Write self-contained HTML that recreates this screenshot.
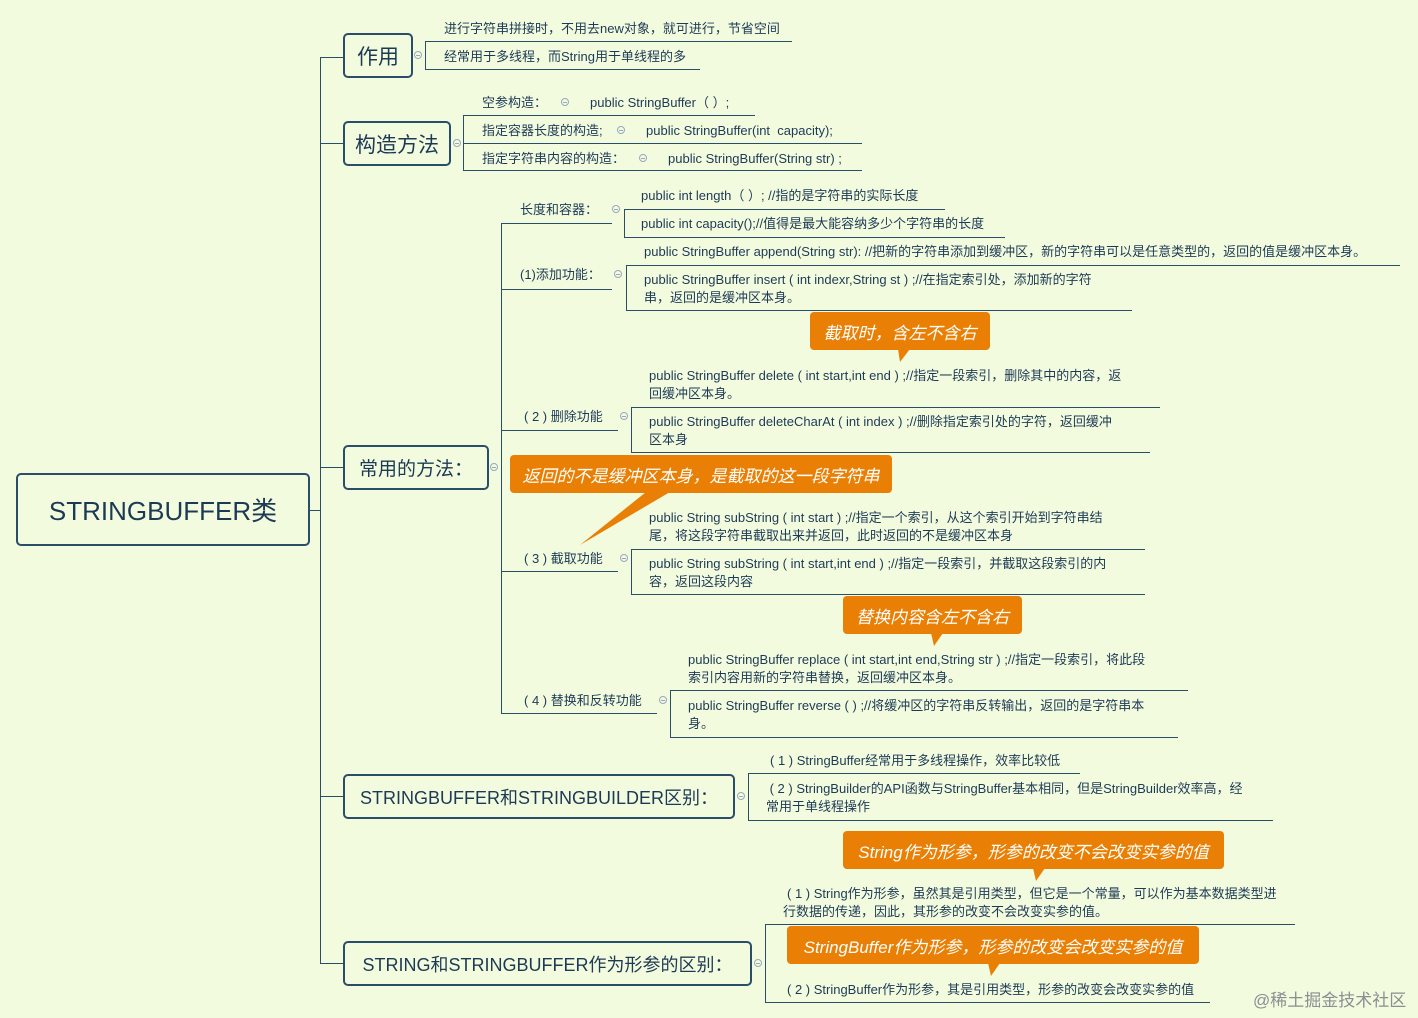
<!DOCTYPE html>
<html><head><meta charset="utf-8"><style>
body{margin:0;width:1418px;height:1018px;background:#f3fbdf;position:relative;overflow:hidden;font-family:"Liberation Sans","Noto Sans CJK SC",sans-serif;color:#1d3a55}
.t{position:absolute;font-size:13px;white-space:nowrap;line-height:18px}
.h{position:absolute;height:0;border-top:1.5px solid #2a4d69}
.v{position:absolute;width:0;border-left:1.5px solid #2a4d69}
.n{position:absolute;border:2px solid #2a4d69;border-radius:5px;box-sizing:border-box;display:flex;align-items:center;justify-content:center;color:#1d3a55;white-space:nowrap}
.c{position:absolute;background:#e98005;border-radius:4px;color:#fff;font-style:italic;font-size:17px;display:flex;align-items:center;justify-content:center;white-space:nowrap}
.m{position:absolute;width:8px;height:8px;border:1px solid #9aa7c0;border-radius:50%;box-sizing:border-box}
.m:after{content:"";position:absolute;left:1px;right:1px;top:3px;border-top:1px solid #9aa7c0}
</style></head><body>
<div class="v" style="left:320px;top:57px;height:906px"></div>
<div class="h" style="left:320px;top:57px;width:23px"></div>
<div class="h" style="left:320px;top:143px;width:23px"></div>
<div class="h" style="left:320px;top:467px;width:23px"></div>
<div class="h" style="left:320px;top:796px;width:23px"></div>
<div class="h" style="left:320px;top:963px;width:23px"></div>
<div class="h" style="left:309px;top:510px;width:11px"></div>

<div class="n" style="left:16px;top:473px;width:294px;height:73px;font-size:26px">STRINGBUFFER类</div>
<div class="n" style="left:343px;top:33px;width:70px;height:45px;font-size:21px">作用</div>
<div class="n" style="left:343px;top:121px;width:108px;height:45px;font-size:21px">构造方法</div>
<div class="n" style="left:343px;top:445px;width:146px;height:45px;font-size:19px">常用的方法：</div>
<div class="n" style="left:343px;top:774px;width:392px;height:45px;font-size:18px">STRINGBUFFER和STRINGBUILDER区别：</div>
<div class="n" style="left:343px;top:941px;width:409px;height:45px;font-size:18px">STRING和STRINGBUFFER作为形参的区别：</div>

<div class="m" style="left:414px;top:51px"></div>
<div class="v" style="left:425px;top:41px;height:28px"></div>
<div class="h" style="left:425px;top:41px;width:367px"></div>
<div class="h" style="left:425px;top:69px;width:275px"></div>
<div class="t" style="left:444px;top:20px">进行字符串拼接时，不用去new对象，就可进行，节省空间</div>
<div class="t" style="left:444px;top:48px">经常用于多线程，而String用于单线程的多</div>

<div class="m" style="left:453px;top:139px"></div>
<div class="v" style="left:463px;top:115px;height:55px"></div>
<div class="h" style="left:463px;top:115px;width:292px"></div>
<div class="h" style="left:463px;top:143px;width:399px"></div>
<div class="h" style="left:463px;top:170px;width:399px"></div>
<div class="t" style="left:482px;top:94px">空参构造：</div><div class="m" style="left:561px;top:98px"></div><div class="t" style="left:590px;top:94px">public StringBuffer（ ）;</div>
<div class="t" style="left:482px;top:122px">指定容器长度的构造;</div><div class="m" style="left:617px;top:126px"></div><div class="t" style="left:646px;top:122px">public StringBuffer(int &nbsp;capacity);</div>
<div class="t" style="left:482px;top:150px">指定字符串内容的构造：</div><div class="m" style="left:639px;top:154px"></div><div class="t" style="left:668px;top:150px">public StringBuffer(String str) ;</div>

<div class="m" style="left:490px;top:463px"></div>
<div class="v" style="left:501px;top:223px;height:490px"></div>

<div class="t" style="left:520px;top:201px">长度和容器：</div>
<div class="h" style="left:501px;top:223px;width:111px"></div>
<div class="m" style="left:612px;top:205px"></div>
<div class="v" style="left:624px;top:209px;height:28px"></div>
<div class="h" style="left:624px;top:209px;width:321px"></div>
<div class="h" style="left:624px;top:237px;width:381px"></div>
<div class="t" style="left:641px;top:187px">public int length（ ）; //指的是字符串的实际长度</div>
<div class="t" style="left:641px;top:215px">public int capacity();//值得是最大能容纳多少个字符串的长度</div>

<div class="t" style="left:520px;top:266px">(1)添加功能：</div>
<div class="h" style="left:501px;top:289px;width:111px"></div>
<div class="m" style="left:614px;top:270px"></div>
<div class="v" style="left:626px;top:265px;height:45px"></div>
<div class="h" style="left:626px;top:265px;width:774px"></div>
<div class="h" style="left:626px;top:310px;width:506px"></div>
<div class="t" style="left:644px;top:243px">public StringBuffer append(String str): //把新的字符串添加到缓冲区，新的字符串可以是任意类型的，返回的值是缓冲区本身。</div>
<div class="t" style="left:644px;top:271px">public StringBuffer insert ( int indexr,String st ) ;//在指定索引处，添加新的字符<br>串，返回的是缓冲区本身。</div>

<div class="c" style="left:810px;top:312px;width:180px;height:38px">截取时，含左不含右</div>
<svg style="position:absolute;left:895px;top:349px" width="20" height="14"><polygon points="3,0 15,0 5,13" fill="#e98005"/></svg>

<div class="t" style="left:524px;top:408px">( 2 ) 删除功能</div>
<div class="h" style="left:501px;top:430px;width:117px"></div>
<div class="m" style="left:620px;top:412px"></div>
<div class="v" style="left:631px;top:407px;height:45px"></div>
<div class="h" style="left:631px;top:407px;width:529px"></div>
<div class="h" style="left:631px;top:452px;width:519px"></div>
<div class="t" style="left:649px;top:367px">public StringBuffer delete ( int start,int end ) ;//指定一段索引，删除其中的内容，返<br>回缓冲区本身。</div>
<div class="t" style="left:649px;top:413px">public StringBuffer deleteCharAt ( int index ) ;//删除指定索引处的字符，返回缓冲<br>区本身</div>

<div class="c" style="left:510px;top:455px;width:382px;height:38px">返回的不是缓冲区本身，是截取的这一段字符串</div>
<svg style="position:absolute;left:580px;top:492px" width="100" height="56"><polygon points="0,53 90,0 66,0" fill="#e98005"/></svg>

<div class="t" style="left:524px;top:550px">( 3 ) 截取功能</div>
<div class="h" style="left:501px;top:571px;width:117px"></div>
<div class="m" style="left:620px;top:554px"></div>
<div class="v" style="left:631px;top:549px;height:45px"></div>
<div class="h" style="left:631px;top:549px;width:514px"></div>
<div class="h" style="left:631px;top:594px;width:514px"></div>
<div class="t" style="left:649px;top:509px">public String subString ( int start ) ;//指定一个索引，从这个索引开始到字符串结<br>尾，将这段字符串截取出来并返回，此时返回的不是缓冲区本身</div>
<div class="t" style="left:649px;top:555px">public String subString ( int start,int end ) ;//指定一段索引，并截取这段索引的内<br>容，返回这段内容</div>

<div class="c" style="left:843px;top:596px;width:179px;height:38px">替换内容含左不含右</div>
<svg style="position:absolute;left:928px;top:633px" width="20" height="14"><polygon points="3,0 15,0 6,13" fill="#e98005"/></svg>

<div class="t" style="left:524px;top:692px">( 4 ) 替换和反转功能</div>
<div class="h" style="left:501px;top:713px;width:156px"></div>
<div class="m" style="left:659px;top:696px"></div>
<div class="v" style="left:670px;top:690px;height:47px"></div>
<div class="h" style="left:670px;top:690px;width:518px"></div>
<div class="h" style="left:670px;top:737px;width:508px"></div>
<div class="t" style="left:688px;top:651px">public StringBuffer replace ( int start,int end,String str ) ;//指定一段索引，将此段<br>索引内容用新的字符串替换，返回缓冲区本身。</div>
<div class="t" style="left:688px;top:697px">public StringBuffer reverse ( ) ;//将缓冲区的字符串反转输出，返回的是字符串本<br>身。</div>

<div class="m" style="left:737px;top:792px"></div>
<div class="v" style="left:748px;top:773px;height:47px"></div>
<div class="h" style="left:748px;top:773px;width:332px"></div>
<div class="h" style="left:748px;top:820px;width:525px"></div>
<div class="t" style="left:770px;top:752px">( 1 ) StringBuffer经常用于多线程操作，效率比较低</div>
<div class="t" style="left:766px;top:780px">&nbsp;( 2 ) StringBuilder的API函数与StringBuffer基本相同，但是StringBuilder效率高，经<br>常用于单线程操作</div>

<div class="c" style="left:843px;top:831px;width:381px;height:38px">String作为形参，形参的改变不会改变实参的值</div>
<svg style="position:absolute;left:1030px;top:868px" width="20" height="14"><polygon points="3,0 15,0 6,13" fill="#e98005"/></svg>
<div class="m" style="left:754px;top:959px"></div>
<div class="v" style="left:765px;top:924px;height:78px"></div>
<div class="h" style="left:765px;top:924px;width:530px"></div>
<div class="h" style="left:765px;top:1002px;width:445px"></div>
<div class="t" style="left:787px;top:885px">( 1 ) String作为形参，虽然其是引用类型，但它是一个常量，可以作为基本数据类型进</div>
<div class="t" style="left:783px;top:903px">行数据的传递，因此，其形参的改变不会改变实参的值。</div>
<div class="c" style="left:787px;top:926px;width:412px;height:38px">StringBuffer作为形参，形参的改变会改变实参的值</div>
<svg style="position:absolute;left:985px;top:963px" width="20" height="14"><polygon points="3,0 15,0 6,13" fill="#e98005"/></svg>
<div class="t" style="left:787px;top:981px">( 2 ) StringBuffer作为形参，其是引用类型，形参的改变会改变实参的值</div>
<div class="t" style="left:1253px;top:990px;font-size:17px;color:#8a8f92;line-height:22px">@稀土掘金技术社区</div>
</body></html>
